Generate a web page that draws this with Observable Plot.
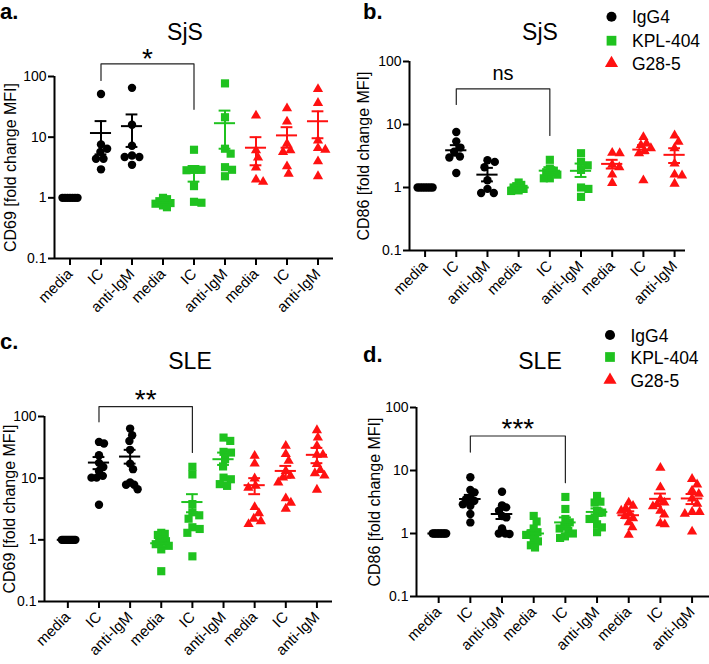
<!DOCTYPE html>
<html><head><meta charset="utf-8">
<script src="https://cdn.jsdelivr.net/npm/d3@7"></script>
<script src="https://cdn.jsdelivr.net/npm/@observablehq/plot@0.6"></script>
<style>
body{margin:0;background:#fff;}
#wrap{position:relative;width:709px;height:664px;overflow:hidden;background:#fff;font-family:"Liberation Sans",Arial,sans-serif;}
.panel{position:absolute;}
#overlay{position:absolute;left:0;top:0;pointer-events:none;}
#wrap g[aria-label="x-axis tick label"], #wrap g[aria-label="x-axis tick label"] text{font-size:15px !important;}
#wrap g[aria-label="y-axis tick label"], #wrap g[aria-label="y-axis tick label"] text{font-size:14px !important;}
</style></head><body>
<div id="wrap">
  <div class="panel" id="pa" style="left:0;top:0"></div>
  <div class="panel" id="pb" style="left:355px;top:0"></div>
  <div class="panel" id="pc" style="left:0;top:320px"></div>
  <div class="panel" id="pd" style="left:355px;top:320px"></div>
  <svg id="overlay" width="709" height="664"></svg>
</div>
<script>
// ---------- data ----------
const categories = ["media","IC","anti-IgM","media","IC","anti-IgM","media","IC","anti-IgM"];
const series = ["IgG4","KPL-404","G28-5"];
const colors = ["#000000","#1fc21f","#ff1111"];
const yTickValues = [0.1, 1, 10, 100];

// a. SjS CD69
const a_values = [
  [1,1,1,1,1,1,1],
  [51.5,7.6,6.45,5.7,4.4,4.4,2.95],
  [65,16,7.2,5.0,4.7,4.7,3.5],
  [1.0,0.95,0.88,0.82,0.8,0.75,0.7],
  [6.2,2.9,2.9,2.85,1.56,0.86,0.83],
  [77,21.3,6.45,5.35,3.2,2.9,2.27],
  [22.7,6.05,4.6,3.15,2.0,1.83],
  [29.9,18.1,7.8,6.05,5.7,3.3,2.5],
  [62,36.6,8.8,6.6,6.2,4.0,2.27]
];
const a_mean = [1,11.7,15.2,0.84,2.6,17,6.7,10.7,18.3];
const a_lo   = [1,5.2,6.9,0.79,1.85,6.45,3.44,6.7,9.6];
const a_hi   = [1,18.4,23.7,0.89,3.35,27.4,10,14.6,26.7];

// b. SjS CD86
const b_values = [
  [1,1,1,1,1,1,1],
  [7.6,5.4,4.3,3.7,3.1,3.0,1.7],
  [2.7,2.55,2.1,1.3,0.95,0.82,0.82],
  [1.2,1.1,1.05,1.0,0.95,0.9,0.88],
  [2.75,2.0,1.85,1.75,1.6,1.4,1.4],
  [3.5,2.55,2.25,1.9,1.0,0.95,0.71],
  [3.55,3.5,2.3,2.1,1.6,1.18],
  [6.3,5.0,4.7,4.2,3.8,3.5,1.3],
  [6.7,5.3,4.2,2.4,1.6,1.55,1.15]
];
const b_mean = [1,3.9,1.6,1.0,1.85,1.84,2.37,4.0,3.3];
const b_lo   = [1,3.2,1.25,0.95,1.6,1.47,2.0,3.5,2.45];
const b_hi   = [1,4.7,2.05,1.06,2.1,2.4,2.75,4.7,4.2];

// c. SLE CD69
const c_values = [
  [1,1,1,1,1,1,1,1,1,1],
  [38.7,36.4,23.6,17.7,15.2,13.1,10.9,10.2,10.2,3.7],
  [63.7,49.8,40.2,28.8,17.2,14.0,8.5,7.8,7.8,6.6],
  [1.3,1.25,1.2,1.0,0.95,0.9,0.85,0.8,0.7,0.31],
  [15.3,11.5,3.8,2.8,2.5,2.2,1.6,1.5,1.3,0.54],
  [45.5,40.2,26.7,26,20.3,15.5,10.2,9.6,8,7.5],
  [23,17.2,9.9,7.5,7.0,3.4,2.7,2.2,2.0,1.8],
  [33.4,24.5,19.1,13.1,10.9,10.2,8.5,4.7,4.0,3.2],
  [60,45.5,33.4,24,24,17,13.5,12,11,6.5]
];
const c_mean = [1,17.9,22.4,0.88,4.1,20.3,7.7,13.1,23.9];
const c_lo   = [1,14,17.2,0.79,2.8,16.4,5.5,10.2,17.5];
const c_hi   = [1,22,28.8,0.97,5.5,26,10,15.8,31];

// d. SLE CD86
const d_values = [
  [1,1,1,1,1,1,1,1,1,1],
  [7.8,4.9,4.5,3.7,3.5,3.3,2.9,2.76,2.04,1.5],
  [4.6,2.8,2.6,2.3,1.9,1.8,1.2,1.0,1.0,0.98],
  [1.9,1.55,1.2,1.05,1.0,0.95,0.8,0.75,0.65,0.6],
  [3.8,2.45,1.7,1.5,1.3,1.2,1.1,1.0,0.9,0.85],
  [3.95,3.2,3.1,2.3,2.15,1.8,1.7,1.4,1.25,1.05],
  [3.1,2.75,2.5,2.3,2.1,1.9,1.75,1.5,1.25,0.95],
  [11,5.4,3.5,3.1,2.9,2.7,2.3,2.0,1.45,1.4],
  [7.35,6.0,4.8,4.25,3.6,2.95,2.2,2.2,2.05,1.07]
];
const d_mean = [1,3.53,2.04,1.0,1.5,2.2,1.95,3.55,3.6];
const d_lo   = [1,3.0,1.7,0.88,1.27,1.9,1.75,2.95,2.93];
const d_hi   = [1,4.1,2.4,1.13,1.8,2.5,2.25,4.3,4.24];

// ---------- panels ----------
const panels = [
  {el:"#pa", values:a_values, mean:a_mean, lo:a_lo, hi:a_hi, ylabel:"CD69 [fold change MFI]",
   width:355, height:320, mL:54, mR:22, mT:76, mB:62, xDomain:[-0.5,8.5], labelOffset:50,
   bracket:{from:1, to:4, top:161, left:86, right:28.8, label:"*", labelY:140, size:28}},
  {el:"#pb", values:b_values, mean:b_mean, lo:b_lo, hi:b_hi, ylabel:"CD86 [fold change MFI]",
   width:354, height:320, mL:54, mR:24, mT:61, mB:70, xDomain:[-0.5,8.35], labelOffset:52,
   bracket:{from:1, to:4, top:36.9, left:20.8, right:6.7, label:"ns", labelY:50, size:20}},
  {el:"#pc", values:c_values, mean:c_mean, lo:c_lo, hi:c_hi, ylabel:"CD69 [fold change MFI]",
   width:355, height:344, mL:44, mR:23, mT:96, mB:63, xDomain:[-0.75,8.5], labelOffset:41,
   bracket:{from:1, to:4, top:145, left:82, right:26.1, label:"**", labelY:133, size:28}},
  {el:"#pd", values:d_values, mean:d_mean, lo:d_lo, hi:d_hi, ylabel:"CD86 [fold change MFI]",
   width:354, height:344, mL:61, mR:0, mT:87, mB:68, xDomain:[-0.7,8.55], labelOffset:48,
   bracket:{from:1, to:4, top:35.3, left:19.6, right:6.4, label:"***", labelY:32.7, size:28}}
];

// horizontal spread of points (beeswarm-like), computed in pixels
function swarm(vals, decPx, unitPx, D = 7.5, maxHalf = 7.5) {
  const pts = vals.map((v, k) => ({k, y: -Math.log10(v) * decPx, x: 0}));
  const order = pts.slice().sort((a, b) => a.y - b.y);
  const placed = [];
  for (const p of order) {
    const cands = [0];
    for (const q of placed) {
      const dy = Math.abs(p.y - q.y);
      if (dy < D) { const dx = Math.sqrt(D * D - dy * dy); cands.push(q.x + dx, q.x - dx); }
    }
    cands.sort((a, b) => Math.abs(a) - Math.abs(b) || b - a);
    for (const c of cands) {
      if (placed.every(q => (q.x - c) ** 2 + (q.y - p.y) ** 2 >= D * D - 1e-6)) { p.x = c; break; }
    }
    placed.push(p);
  }
  const m = d3.max(pts, p => Math.abs(p.x));
  const s = m > maxHalf ? maxHalf / m : 1;
  return pts.map(p => p.x * s / unitPx);
}

const symbols = ["circle", "square", "triangle"];
const radii = [4.2, 4.6, 3.8];

function makePanel(cfg) {
  const unitPx = (cfg.width - cfg.mL - cfg.mR) / (cfg.xDomain[1] - cfg.xDomain[0]);
  const decPx = (cfg.height - cfg.mT - cfg.mB) / 3;
  const pts = [];
  cfg.values.forEach((vals, i) => {
    const off = swarm(vals, decPx, unitPx);
    vals.forEach((v, k) => pts.push({i, s: Math.floor(i / 3), x: i + off[k], v}));
  });
  const stats = cfg.mean.map((m, i) => ({i, s: Math.floor(i / 3), mean: m, lo: cfg.lo[i], hi: cfg.hi[i]}));
  const col = d => colors[d.s];
  const br = cfg.bracket;
  const brPath = [
    {x: br.from, y: br.left}, {x: br.from, y: br.top},
    {x: br.to, y: br.top}, {x: br.to, y: br.right}
  ];
  const marks = [
    Plot.axisY({ticks: yTickValues, tickFormat: d => String(d), tickSize: 6, tickPadding: 2,
      fontSize: 14, strokeWidth: 2, label: null}),
    Plot.axisX({ticks: d3.range(categories.length), tickFormat: i => categories[i], tickRotate: -45,
      tickSize: 7, tickPadding: 6, fontSize: 15, strokeWidth: 2, label: null}),
    Plot.text([cfg.ylabel], {text: d => d, frameAnchor: "left", rotate: -90, dx: -cfg.labelOffset,
      lineAnchor: "top", textAnchor: "middle", fontSize: 16}),
    Plot.ruleY([0.1], {strokeWidth: 2}),
    Plot.ruleX([cfg.xDomain[0]], {strokeWidth: 2})
  ];
  series.forEach((name, s) => {
    marks.push(Plot.dot(pts.filter(d => d.s === s), {
      x: "x", y: "v", symbol: symbols[s], r: radii[s], fill: colors[s]
    }));
  });
  marks.push(
    Plot.ruleX(stats, {x: "i", y1: "lo", y2: "hi", stroke: col, strokeWidth: 2}),
    Plot.ruleY(stats, {y: "mean", x1: d => d.i - 0.34, x2: d => d.i + 0.34, stroke: col, strokeWidth: 2}),
    Plot.ruleY(stats, {y: "lo", x1: d => d.i - 0.19, x2: d => d.i + 0.19, stroke: col, strokeWidth: 2}),
    Plot.ruleY(stats, {y: "hi", x1: d => d.i - 0.19, x2: d => d.i + 0.19, stroke: col, strokeWidth: 2}),
    Plot.line(brPath, {x: "x", y: "y", stroke: "#222", strokeWidth: 1.2}),
    Plot.text([br], {x: d => (d.from + d.to) / 2, y: "labelY", text: "label", lineAnchor: "bottom", fontSize: br.size})
  );
  const chart = Plot.plot({
    width: cfg.width, height: cfg.height,
    marginLeft: cfg.mL, marginRight: cfg.mR, marginTop: cfg.mT, marginBottom: cfg.mB,
    x: {type: "linear", domain: cfg.xDomain},
    y: {type: "log", domain: [0.1, 100]},
    color: {type: "identity"},
    style: {fontFamily: '"Liberation Sans", Arial, sans-serif', fontSize: "14px", color: "#000",
      background: "transparent", overflow: "visible"},
    marks
  });
  document.querySelector(cfg.el).appendChild(chart);
}
panels.forEach(makePanel);

// ---------- overlay texts: letters, titles, legends ----------
const ov = d3.select("#overlay");
const letters = [
  {t: "a.", x: 0, y: 18.5}, {t: "b.", x: 363, y: 18.5},
  {t: "c.", x: 0, y: 349}, {t: "d.", x: 363, y: 361.5}
];
ov.selectAll("text.letter").data(letters).join("text").attr("class", "letter")
  .attr("x", d => d.x).attr("y", d => d.y).text(d => d.t)
  .attr("font-family", '"Liberation Sans", Arial, sans-serif')
  .attr("font-weight", "bold").attr("font-size", 22).attr("fill", "#000");
const titles = [
  {t: "SjS", x: 185, y: 40}, {t: "SjS", x: 540, y: 39.5},
  {t: "SLE", x: 190, y: 369.3}, {t: "SLE", x: 540, y: 369.3}
];
ov.selectAll("text.title").data(titles).join("text").attr("class", "title")
  .attr("x", d => d.x).attr("y", d => d.y).text(d => d.t).attr("text-anchor", "middle")
  .attr("font-family", '"Liberation Sans", Arial, sans-serif')
  .attr("font-size", 23).attr("fill", "#000");
const legendPos = [{x: 611.5, y: [16.7, 40.7, 63.3]}, {x: 610, y: [335, 357, 380]}];
const symGen = [d3.symbolCircle, d3.symbolSquare, d3.symbolTriangle];
const symSize = [80, 95, 75];
legendPos.forEach(L => {
  series.forEach((name, s) => {
    ov.append("path")
      .attr("d", d3.symbol(symGen[s], symSize[s])())
      .attr("transform", `translate(${L.x},${L.y[s]})`)
      .attr("fill", colors[s]);
    ov.append("text").attr("x", L.x + 20.5).attr("y", L.y[s] + 6.6).text(name)
      .attr("font-family", '"Liberation Sans", Arial, sans-serif')
      .attr("font-size", 17.5).attr("fill", "#000");
  });
});
</script>
</body></html>
